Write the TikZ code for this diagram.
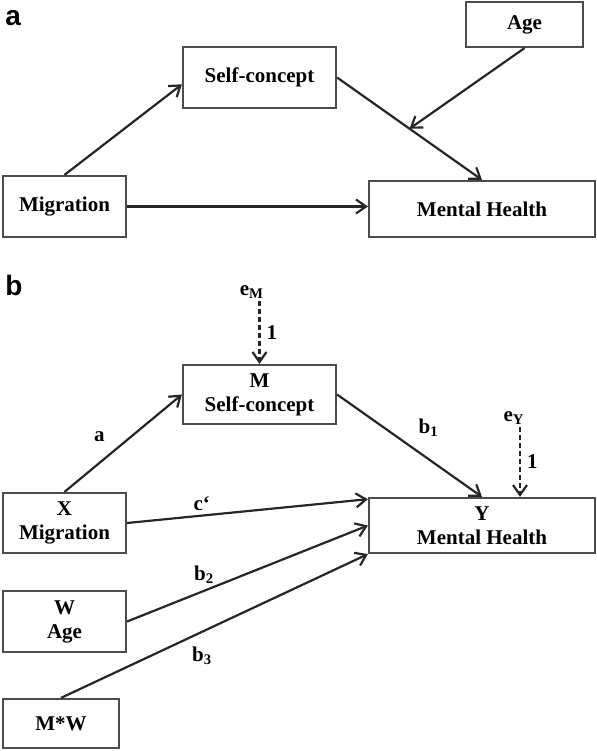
\documentclass[tikz,border=0pt]{standalone}
\usepackage{fontspec}
\setmainfont{Liberation Serif}
\setsansfont{Liberation Sans}
\usepackage{tikz}
\usetikzlibrary{arrows.meta,calc}

\begin{document}
\begin{tikzpicture}[x=0.5pt,y=-0.5pt,
	box/.style={draw=black!70,line width=1.1pt,fill=white,inner sep=0pt,align=center,
		font=\fontsize{10.5}{12}\selectfont\bfseries},
	arr/.style={draw=black!85,line width=1.1pt,-{Straight Barb[length=5pt,width=7pt]}},
	err/.style={arr,dash pattern=on 2.5pt off 1.5pt},
	lab/.style={font=\fontsize{10.5}{12}\selectfont\bfseries,inner sep=1pt},
	panel/.style={font=\fontsize{14}{14}\selectfont\sffamily\bfseries,anchor=north west,inner sep=0pt}]
			\useasboundingbox (0,0) rectangle (597,751);
			% panel a
			\begin{scope}
				\node[panel] (pa) at (5,10) {a};
				\node[box,minimum width=76.5pt,minimum height=30.5pt] (sc) at (259.5,77.5) {Self-concept};
				\node[box,minimum width=58.5pt,minimum height=22.5pt] (age) at (524.5,24.5) {Age};
				\node[box,minimum width=61.5pt,minimum height=30.5pt] (mig) at (64.5,206.5) {Migration};
				\node[box,minimum width=113pt,minimum height=28pt] (mh) at (482,209) {Mental Health};
				\coordinate (mod) at ($(sc.east)!0.5!(mh.north)$);
				\draw[arr] (mig.north) -- (sc.185);
				\draw[arr] (sc.east) -- (mh.north);
				\draw[arr] (age.south) -- (mod);
				\draw[arr] (mig.east) -- (mig.east -| mh.west);
			\end{scope}
			% panel b
			\begin{scope}
				\node[panel] (pb) at (5,275) {b};
				\node[box,minimum width=76.5pt,minimum height=29.5pt] (M) at (259.5,394.5) {M\\Self-concept};
				\node[box,minimum width=113pt,minimum height=27.5pt] (Y) at (482,525.5) {Y\\Mental Health};
				\node[box,minimum width=61.5pt,minimum height=30pt] (X) at (64.5,523) {X\\Migration};
				\node[box,minimum width=61.5pt,minimum height=30.5pt] (W) at (64.5,621.5) {W\\Age};
				\node[box,minimum width=58pt,minimum height=24.5pt] (MW) at (61,723.5) {M*W};
				\node[lab] (eM) at (252,292) {e\textsubscript{M}};
				\node[lab] (eY) at (514,418) {e\textsubscript{Y}};
				\draw[err] (eM.south -| M.north) -- (M.north) node[lab,midway,right=2pt] {1};
				\draw[err] ([xshift=3pt]eY.south) -- ([xshift=3pt]eY.south |- Y.north) node[lab,midway,right=2pt] {1};
				\draw[arr] (X.north) -- (M.west) node[lab,pos=.42,above left=3pt] {a};
				\draw[arr] (M.east) -- (Y.north) node[lab,pos=.5,above right=3pt] {b\textsubscript{1}};
				\draw[arr] (X.east) -- (Y.167) node[lab,pos=.31,above=1pt] {c‘};
				\draw[arr] (W.east) -- (Y.west) node[lab,pos=.32,above=2pt] {b\textsubscript{2}};
				\draw[arr] (MW.north) -- (Y.south west) node[lab,pos=.46,below=6pt] {b\textsubscript{3}};
			\end{scope}
		\end{tikzpicture}
\end{document}
